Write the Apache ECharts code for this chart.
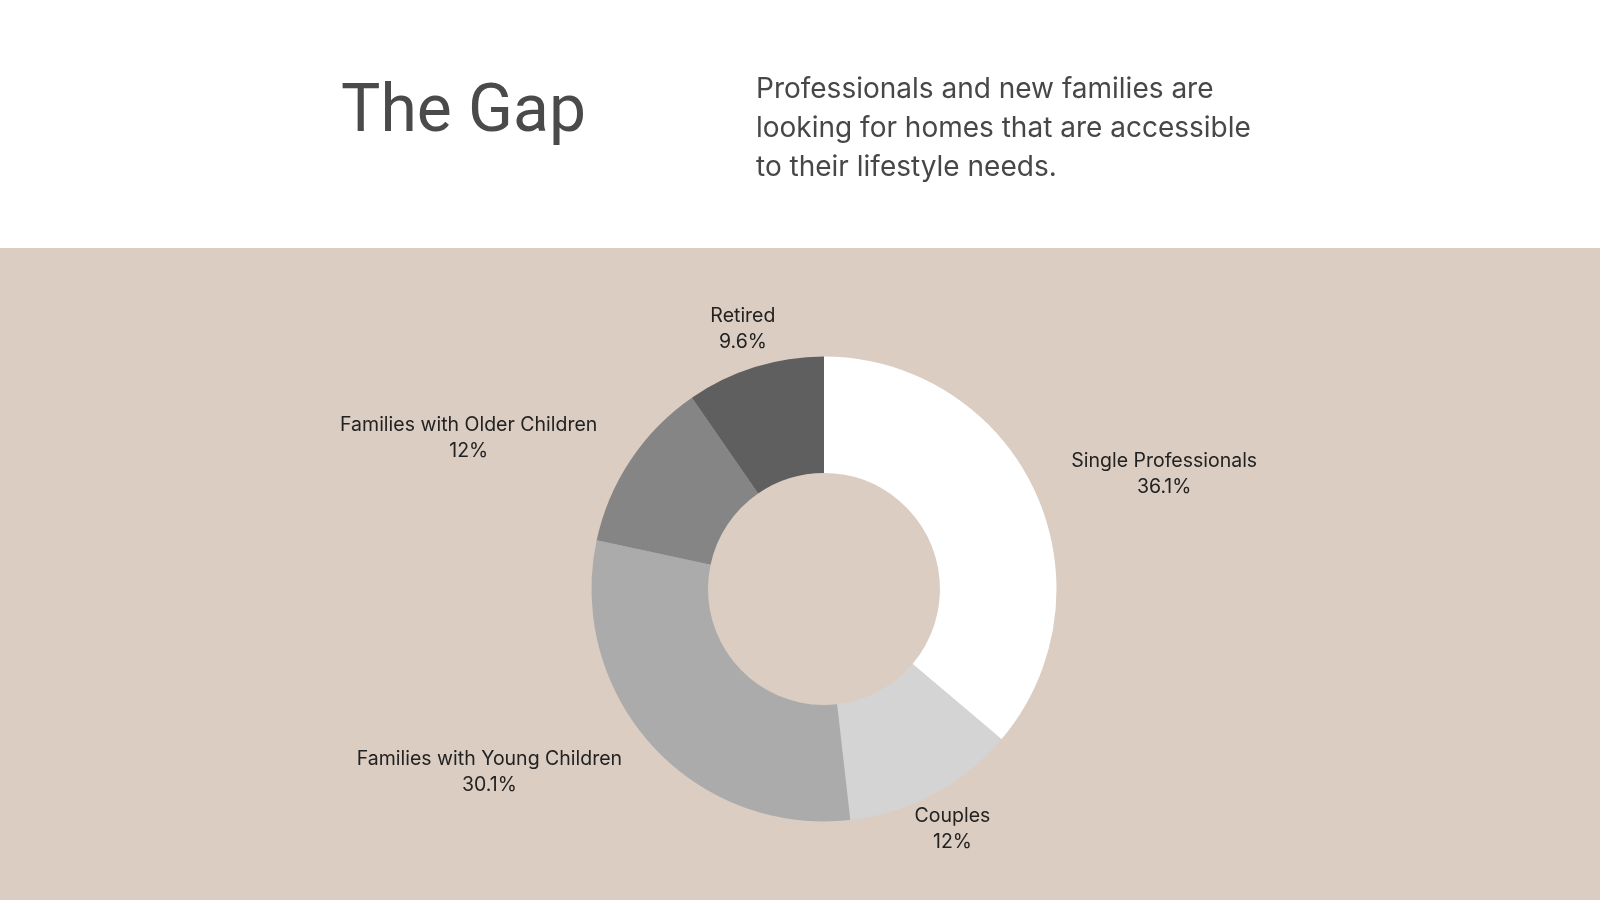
<!DOCTYPE html>
<html lang="en">
<head>
    <meta charset="UTF-8">
    <title>The Gap</title>
    <style>
        * { padding: 0; margin: 0; }
        body { background: #ffffff; }
    </style>
    <script type="text/javascript" src="https://cdn.jsdelivr.net/npm/echarts@6/dist/echarts.min.js"></script>
</head>
<body>
    <div id="main" style="width:1600px;height:900px;"></div>
    <script type="text/javascript">
    // chart data
    var categories = ['Single Professionals', 'Couples', 'Families with Young Children', 'Families with Older Children', 'Retired'];
    var shares = [36.1, 12, 30.1, 12, 9.6];
    var sliceColors = ['#ffffff', '#d4d4d4', '#ababab', '#858585', '#5f5f5f'];

    var pieCenter = [824, 589];

    var myChart = echarts.init(document.getElementById('main'));

    var pieData = categories.map(function (name, i) {
        return { name: name, value: shares[i], itemStyle: { color: sliceColors[i] } };
    });

    var option = {
        backgroundColor: '#ffffff',
        animation: false,
        graphic: [{
            type: 'rect',
            z: -10,
            shape: { x: 0, y: 248, width: 1600, height: 652 },
            style: { fill: '#dbcdc2' },
            silent: true
        }],
        title: [{
            text: 'The Gap',
            left: 336,
            top: 74,
            textStyle: {
                fontFamily: 'Roboto',
                fontWeight: 400,
                fontSize: 66,
                lineHeight: 70,
                color: '#4a4a4a'
            }
        }, {
            text: 'Professionals and new families are\nlooking for homes that are accessible\nto their lifestyle needs.',
            left: 751,
            top: 65,
            textStyle: {
                fontFamily: 'Inter',
                fontWeight: 400,
                fontSize: 28,
                lineHeight: 39,
                color: '#474747'
            }
        }],
        series: [{
            type: 'pie',
            center: pieCenter,
            radius: [116, 232.5],
            startAngle: 90,
            clockwise: true,
            avoidLabelOverlap: false,
            emphasis: { disabled: true },
            label: {
                show: true,
                position: 'outside',
                formatter: '{b}\n{c}%',
                fontFamily: 'Inter',
                fontSize: 19.5,
                lineHeight: 26,
                color: '#222222',
                distanceToLabelLine: 0
            },
            labelLine: {
                show: false,
                length: 40,
                length2: 0
            },
            // centre the two text lines; labels near the top/bottom sit centred on their anchor
            labelLayout: function (p) {
                var r = p.labelRect;
                var ax = p.align === 'left' ? r.x : (p.align === 'right' ? r.x + r.width : r.x + r.width / 2);
                var ay = r.y + r.height / 2;
                var dx = ax - pieCenter[0], dy = ay - pieCenter[1];
                var s = Math.abs(dx) / Math.sqrt(dx * dx + dy * dy);
                if (s < 0.6) {
                    return { x: ax, y: ay, align: 'center', verticalAlign: 'middle' };
                }
                return { x: r.x + r.width / 2, y: ay, align: 'center', verticalAlign: 'middle' };
            },
            data: pieData
        }]
    };

    myChart.setOption(option);
    </script>
</body>
</html>
